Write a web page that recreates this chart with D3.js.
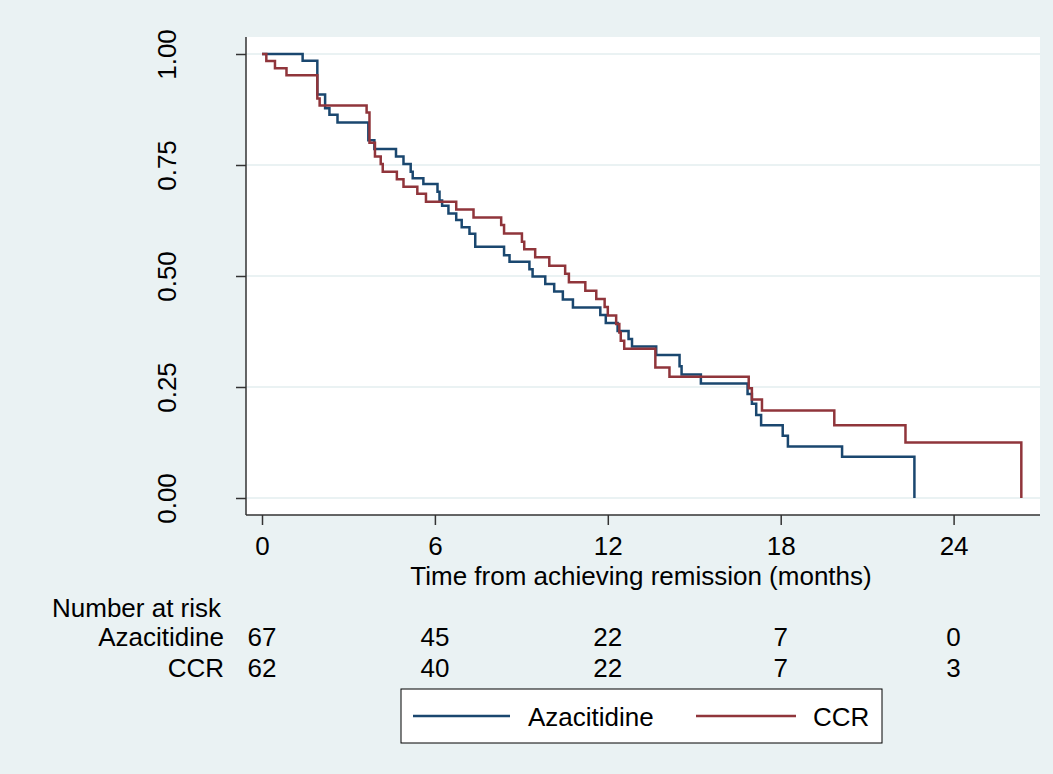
<!DOCTYPE html>
<html>
<head>
<meta charset="utf-8">
<script src="https://cdn.jsdelivr.net/npm/d3@7"></script>
<style>
  body { margin: 0; background: #eaf2f3; }
  text { font-family: "Liberation Sans", Arial, sans-serif; fill: #000; }
</style>
</head>
<body>
<div id="chart"></div>
<script>
// Kaplan-Meier step data
const aziTime = [0, 1.41, 1.92, 2.19, 2.34, 2.62, 3.69, 3.9, 4.65, 4.91, 5.16, 5.23, 5.6, 6.09, 6.16, 6.25, 6.47, 6.74, 6.93, 7.2, 7.4, 8.4, 8.59, 9.28, 9.39, 9.83, 10.14, 10.44, 10.79, 11.74, 11.93, 12.34, 12.72, 12.84, 13.68, 14.49, 14.56, 15.23, 16.85, 17.0, 17.15, 17.32, 18.07, 18.25, 20.13, 22.64];
const aziSurv = [1, 0.985, 0.909, 0.878, 0.863, 0.846, 0.806, 0.786, 0.769, 0.752, 0.735, 0.72, 0.707, 0.69, 0.67, 0.658, 0.641, 0.626, 0.61, 0.595, 0.566, 0.547, 0.532, 0.515, 0.499, 0.482, 0.465, 0.447, 0.429, 0.412, 0.394, 0.376, 0.358, 0.341, 0.322, 0.297, 0.278, 0.258, 0.234, 0.212, 0.187, 0.164, 0.14, 0.116, 0.093, 0];
const ccrTime = [0, 0.15, 0.45, 0.85, 1.92, 2.0, 3.63, 3.73, 3.92, 4.12, 4.19, 4.68, 4.91, 5.39, 5.69, 6.74, 7.34, 8.3, 8.4, 9.02, 9.1, 9.48, 9.97, 10.52, 10.65, 11.22, 11.6, 11.89, 12.0, 12.29, 12.4, 12.45, 12.57, 13.65, 14.14, 16.89, 17.0, 17.35, 19.86, 22.33, 26.35];
const ccrSurv = [1, 0.984, 0.968, 0.952, 0.9, 0.884, 0.868, 0.8, 0.769, 0.752, 0.735, 0.718, 0.701, 0.685, 0.667, 0.65, 0.632, 0.615, 0.596, 0.577, 0.56, 0.542, 0.523, 0.505, 0.486, 0.467, 0.448, 0.43, 0.411, 0.392, 0.373, 0.354, 0.336, 0.294, 0.273, 0.247, 0.222, 0.197, 0.164, 0.125, 0];

const xTicks = [0, 6, 12, 18, 24];
const yTicks = [0, 0.25, 0.5, 0.75, 1];
const groups = ["Azacitidine", "CCR"];
const riskAzi = [67, 45, 22, 7, 0];
const riskCcr = [62, 40, 22, 7, 3];
const colors = ["#1a476f", "#90353b"];

const width = 1053, height = 774;
const plot = { left: 246, right: 1040, top: 37, bottom: 515 };

const svg = d3.select("#chart").append("svg")
    .attr("width", width)
    .attr("height", height);

svg.append("rect")
    .attr("width", width).attr("height", height)
    .attr("fill", "#eaf2f3");

// white plot region
svg.append("rect")
    .attr("x", plot.left).attr("y", plot.top)
    .attr("width", plot.right - plot.left)
    .attr("height", plot.bottom - plot.top)
    .attr("fill", "#fff");

const x = d3.scaleLinear().domain([0, 24]).range([262, 953.6]);
const y = d3.scaleLinear().domain([0, 1]).range([498, 54]);

// gridlines
svg.append("g").selectAll("line")
    .data(yTicks)
    .enter().append("line")
    .attr("x1", plot.left).attr("x2", plot.right)
    .attr("y1", d => y(d)).attr("y2", d => y(d))
    .attr("stroke", "#eaf2f3")
    .attr("stroke-width", 2);

// y axis
const yAxis = svg.append("g")
    .attr("transform", `translate(${plot.left},0)`)
    .call(d3.axisLeft(y).tickValues(yTicks).tickSize(10).tickFormat(d3.format(".2f")));
yAxis.select(".domain").attr("d", `M0,${plot.top}V${plot.bottom}`);
yAxis.selectAll("line").attr("stroke", "#333").attr("stroke-width", 1.5);
yAxis.select(".domain").attr("stroke", "#333").attr("stroke-width", 1.5);
yAxis.selectAll("text")
    .attr("x", null).attr("dy", null)
    .attr("transform", "translate(-70,0) rotate(-90)")
    .style("text-anchor", "middle")
    .style("font-size", "26px")
    .style("font-family", "'Liberation Sans', Arial, sans-serif");

// x axis
const xAxis = svg.append("g")
    .attr("transform", `translate(0,${plot.bottom})`)
    .call(d3.axisBottom(x).tickValues(xTicks).tickSize(10).tickFormat(d3.format("d")));
xAxis.select(".domain").attr("d", `M${plot.left},0H${plot.right}`)
    .attr("stroke", "#333").attr("stroke-width", 1.5);
xAxis.selectAll("line").attr("stroke", "#333").attr("stroke-width", 1.5);
xAxis.selectAll("text")
    .attr("y", 40).attr("dy", null)
    .style("font-size", "26px")
    .style("font-family", "'Liberation Sans', Arial, sans-serif");

svg.append("text")
    .attr("x", 641).attr("y", 585)
    .attr("text-anchor", "middle")
    .style("font-size", "26px")
    .text("Time from achieving remission (months)");

// survival curves
const line = d3.line()
    .x(d => x(d[0]))
    .y(d => y(d[1]))
    .curve(d3.curveStepAfter);

[[aziTime, aziSurv], [ccrTime, ccrSurv]].forEach((s, i) => {
    svg.append("path")
        .datum(d3.zip(s[0], s[1]))
        .attr("fill", "none")
        .attr("stroke", colors[i])
        .attr("stroke-width", 2.5)
        .attr("d", line);
});

// number at risk table
svg.append("text")
    .attr("x", 52).attr("y", 617)
    .style("font-size", "26px")
    .text("Number at risk");

[riskAzi, riskCcr].forEach((row, i) => {
    const yy = 646 + i * 31;
    svg.append("text")
        .attr("x", 224).attr("y", yy)
        .attr("text-anchor", "end")
        .style("font-size", "26px")
        .text(groups[i]);
    svg.append("g").selectAll("text")
        .data(row)
        .enter().append("text")
        .attr("x", (d, j) => x(xTicks[j]))
        .attr("y", yy)
        .attr("text-anchor", "middle")
        .style("font-size", "26px")
        .text(d => d);
});

// legend
const legend = svg.append("g");
legend.append("rect")
    .attr("x", 401).attr("y", 689)
    .attr("width", 481).attr("height", 54)
    .attr("fill", "#fff")
    .attr("stroke", "#000")
    .attr("stroke-width", 1);
const legX = [[413, 510, 528], [696, 796, 813]];
groups.forEach((g, i) => {
    legend.append("line")
        .attr("x1", legX[i][0]).attr("x2", legX[i][1])
        .attr("y1", 716).attr("y2", 716)
        .attr("stroke", colors[i])
        .attr("stroke-width", 2.5);
    legend.append("text")
        .attr("x", legX[i][2]).attr("y", 726)
        .style("font-size", "26px")
        .text(g);
});
</script>
</body>
</html>
